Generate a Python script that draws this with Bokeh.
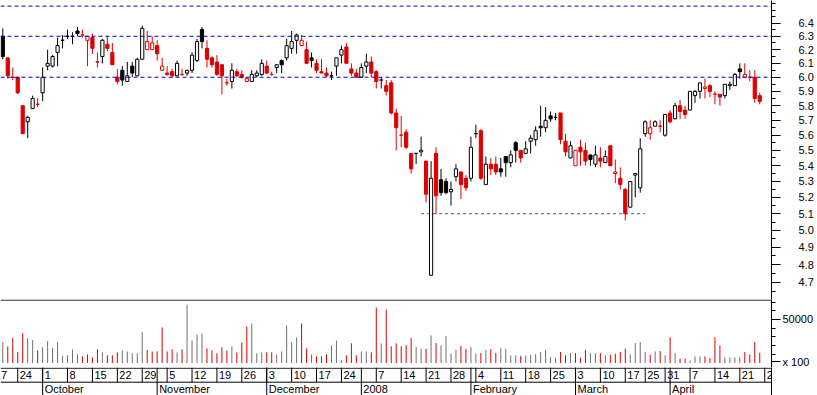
import numpy as np
import pandas as pd
from bokeh.plotting import figure
from bokeh.layouts import column
from bokeh.models import (ColumnDataSource, Range1d, FixedTicker, PrintfTickFormatter,
                          Span)
from bokeh.core.properties import value
from bokeh.embed import file_html
from bokeh.resources import INLINE

# ---------------------------------------------------------------- data
FIRST_DAY = "2007-09-19"
CAL_START, CAL_END = "2007-09-17", "2008-04-28"
HOLIDAYS = ["2007-12-25", "2007-12-26", "2008-01-01", "2008-03-21", "2008-03-24"]

opens = [6.30, 6.14, 6.00, 6.00, 5.80, 5.69, 5.78, 5.81, 5.89, 6.08,
         6.08, 6.18, 6.27, 6.30, 6.30, 6.34, 6.31, 6.27, 6.29, 6.11,
         6.15, 6.24, 6.18, 6.00, 6.05, 5.97, 6.08, 6.01, 6.13, 6.20,
         6.20, 6.23, 6.05, 6.03, 6.04, 6.01, 6.02, 6.03, 6.05, 6.12,
         6.35, 6.21, 6.14, 6.11, 6.09, 5.96, 5.97, 6.04, 6.02, 5.97,
         5.97, 6.01, 6.02, 6.08, 6.02, 6.07, 6.12, 6.14, 6.21, 6.27,
         6.23, 6.20, 6.14, 6.10, 6.04, 6.03, 6.01, 6.08, 6.16, 6.22,
         6.06, 6.03, 6.00, 6.08, 6.11, 6.04, 5.98, 5.94, 5.96, 5.75,
         5.60, 5.62, 5.48, 5.48, 5.49, 5.43, 4.74, 5.48, 5.31, 5.30,
         5.235, 5.33, 5.36, 5.32, 5.32, 5.61, 5.63, 5.28, 5.41, 5.41,
         5.38, 5.46, 5.42, 5.55, 5.50, 5.48, 5.56, 5.57, 5.66, 5.65,
         5.73, 5.72, 5.75, 5.56, 5.45, 5.40, 5.52, 5.50, 5.47, 5.41,
         5.45, 5.42, 5.53, 5.35, 5.32, 5.25, 5.14, 5.34, 5.26, 5.61,
         5.61, 5.66, 5.66, 5.60, 5.75, 5.71, 5.80, 5.77, 5.77, 5.87,
         5.90, 5.92, 5.94, 5.88, 5.88, 5.87, 5.94, 5.94, 6.06, 6.00,
         6.00, 6.00, 5.87]

highs = [6.36, 6.14, 6.07, 6.00, 5.80, 5.73, 5.87, 5.85, 6.07, 6.20,
         6.16, 6.29, 6.31, 6.35, 6.33, 6.37, 6.35, 6.30, 6.32, 6.18,
         6.28, 6.30, 6.25, 6.06, 6.08, 6.11, 6.11, 6.14, 6.38, 6.34,
         6.30, 6.27, 6.14, 6.08, 6.06, 6.12, 6.06, 6.05, 6.18, 6.28,
         6.37, 6.27, 6.15, 6.16, 6.09, 5.99, 6.10, 6.06, 6.05, 6.00,
         6.05, 6.05, 6.13, 6.12, 6.04, 6.09, 6.13, 6.28, 6.34, 6.32,
         6.31, 6.26, 6.18, 6.13, 6.13, 6.07, 6.04, 6.14, 6.23, 6.25,
         6.10, 6.06, 6.10, 6.17, 6.15, 6.05, 6.00, 5.98, 5.98, 5.78,
         5.73, 5.64, 5.48, 5.48, 5.59, 5.43, 5.43, 5.52, 5.38, 5.32,
         5.30, 5.41, 5.36, 5.34, 5.59, 5.67, 5.64, 5.46, 5.45, 5.46,
         5.45, 5.46, 5.50, 5.56, 5.50, 5.56, 5.60, 5.66, 5.80, 5.79,
         5.76, 5.75, 5.75, 5.61, 5.56, 5.50, 5.57, 5.55, 5.47, 5.53,
         5.52, 5.50, 5.53, 5.44, 5.39, 5.26, 5.30, 5.35, 5.58, 5.70,
         5.70, 5.70, 5.70, 5.74, 5.77, 5.82, 5.84, 5.80, 5.90, 5.91,
         5.96, 5.99, 5.95, 5.90, 5.88, 5.95, 5.97, 6.03, 6.10, 6.10,
         6.05, 6.05, 5.89]

lows = [6.13, 5.99, 5.98, 5.88, 5.61, 5.58, 5.78, 5.79, 5.83, 6.05,
        6.07, 6.08, 6.21, 6.28, 6.24, 6.30, 6.29, 6.08, 6.17, 6.07,
        6.10, 6.19, 6.09, 5.95, 5.94, 5.97, 6.00, 6.01, 6.13, 6.20,
        6.20, 6.12, 6.05, 6.01, 6.00, 6.01, 6.01, 6.01, 6.03, 6.11,
        6.21, 6.07, 6.07, 6.01, 5.88, 5.94, 5.92, 6.00, 5.99, 5.97,
        5.97, 6.00, 6.01, 6.02, 6.01, 6.03, 6.03, 6.12, 6.17, 6.17,
        6.23, 6.10, 6.07, 6.03, 6.03, 6.00, 5.98, 6.01, 6.10, 6.10,
        6.01, 6.00, 6.00, 6.03, 6.00, 5.92, 5.92, 5.87, 5.74, 5.50,
        5.52, 5.51, 5.35, 5.41, 5.46, 5.17, 4.74, 5.10, 5.21, 5.22,
        5.15, 5.30, 5.19, 5.24, 5.30, 5.58, 5.31, 5.28, 5.34, 5.34,
        5.33, 5.33, 5.39, 5.42, 5.42, 5.48, 5.48, 5.53, 5.59, 5.62,
        5.69, 5.70, 5.54, 5.46, 5.45, 5.40, 5.40, 5.40, 5.40, 5.39,
        5.39, 5.42, 5.40, 5.29, 5.25, 5.06, 5.14, 5.20, 5.23, 5.59,
        5.57, 5.66, 5.62, 5.59, 5.68, 5.71, 5.71, 5.71, 5.77, 5.82,
        5.85, 5.85, 5.86, 5.81, 5.80, 5.85, 5.91, 5.94, 5.99, 6.00,
        5.97, 5.82, 5.81]

closes = [6.15, 6.01, 6.00, 5.89, 5.61, 5.72, 5.85, 5.81, 6.00, 6.10,
          6.15, 6.23, 6.27, 6.30, 6.30, 6.32, 6.31, 6.30, 6.21, 6.11,
          6.27, 6.21, 6.09, 5.97, 5.98, 6.01, 6.03, 6.13, 6.36, 6.26,
          6.25, 6.17, 6.08, 6.02, 6.01, 6.10, 6.02, 6.05, 6.16, 6.26,
          6.26, 6.13, 6.09, 6.02, 6.01, 5.96, 6.05, 6.01, 6.00, 5.99,
          6.02, 6.03, 6.10, 6.03, 6.02, 6.09, 6.09, 6.23, 6.26, 6.31,
          6.27, 6.10, 6.12, 6.05, 6.03, 6.01, 6.01, 6.14, 6.20, 6.10,
          6.03, 6.00, 6.07, 6.11, 6.03, 5.97, 5.98, 5.90, 5.75, 5.65,
          5.60, 5.52, 5.38, 5.48, 5.50, 5.22, 5.32, 5.21, 5.23, 5.23,
          5.25, 5.38, 5.28, 5.26, 5.52, 5.61, 5.32, 5.41, 5.38, 5.36,
          5.36, 5.42, 5.47, 5.50, 5.45, 5.51, 5.58, 5.63, 5.65, 5.70,
          5.71, 5.72, 5.57, 5.49, 5.53, 5.50, 5.49, 5.43, 5.44, 5.47,
          5.43, 5.46, 5.40, 5.36, 5.28, 5.10, 5.30, 5.35, 5.51, 5.69,
          5.65, 5.69, 5.66, 5.74, 5.69, 5.80, 5.76, 5.74, 5.90, 5.90,
          5.96, 5.93, 5.90, 5.88, 5.86, 5.95, 5.95, 6.02, 6.04, 6.02,
          6.00, 5.85, 5.83]

volumes = [24000, 19100, 28600, 12600, 34300, 28600, 26300, 14500, 18300, 25200,
           17500, 24000, 8000, 8800, 15600, 9900, 7600, 9900, 6500, 15600,
           12200, 8800, 8800, 12200, 14500, 13300, 11100, 11100, 35500, 14900,
           13300, 13300, 40800, 13300, 15600, 12200, 15600, 67100, 25900, 32800,
           33900, 16800, 14500, 11100, 17900, 14500, 19100, 12200, 23600, 41900,
           45400, 11100, 12200, 12200, 12200, 9900, 13300, 43100, 24000, 29400,
           45400, 16800, 9900, 7600, 7600, 9900, 20200, 25900, 3100, 8800,
           22500, 8800, 13300, 13300, 12200, 63700, 22500, 61400, 19100, 22500,
           19100, 20200, 28600, 18300, 16400, 16400, 31600, 22900, 20200, 30900,
           10700, 15300, 19400, 16400, 18300, 10700, 11400, 15300, 16000, 11400,
           17200, 16400, 8800, 8800, 8000, 8800, 9500, 10300, 12600, 15300,
           6900, 6100, 12600, 8800, 11400, 11400, 6100, 15300, 11400, 11400,
           11400, 8800, 9500, 10700, 12600, 16400, 9900, 22900, 24000, 12600,
           9500, 13300, 13700, 8800, 29700, 11400, 5000, 5000, 3100, 7600,
           7600, 7600, 5700, 29700, 20200, 6500, 6500, 6500, 6500, 12600,
           9900, 24000, 11800]

resistance_levels = [6.53, 6.30, 6.00]
support_level = 5.10
support_from, support_to = "2008-01-18", "2008-03-25"

price_tick_labels = [4.7, 4.8, 4.9, 5.0, 5.1, 5.2, 5.3, 5.4, 5.5, 5.6,
                     5.7, 5.8, 5.9, 6.0, 6.1, 6.2, 6.3, 6.4]
volume_tick_labels = [50000]
volume_minor_ticks = [10000, 20000, 30000, 40000, 50000, 60000, 70000]
volume_unit = "x 100"
volume_unit_at = 1700
month_labels = {1: "2008", 2: "February", 3: "March", 4: "April",
                10: "October", 11: "November", 12: "December"}

# ---------------------------------------------------------------- styles
RED = "#dd0000"
BLACK = "#000000"
GREY = "#707070"
BLUE = "#0000cc"
FONT = "Liberation Sans"
W = 817
BORDER_R = 46
X_RANGE = Range1d(-0.46, 154.36)

# ---------------------------------------------------------------- calendar
cal = pd.bdate_range(CAL_START, CAL_END)
cal = cal[~cal.isin(pd.to_datetime(HOLIDAYS))]
origin = cal.get_loc(pd.Timestamp(FIRST_DAY))
cal_pos = list(np.arange(len(cal)) - origin)
n = len(opens)
assert len(highs) == len(lows) == len(closes) == len(volumes) == n
xs = cal_pos[origin:origin + n]


def pos_of(day):
    return cal_pos[cal.get_loc(pd.Timestamp(day))]


prev_close = [closes[0]] + closes[:-1]
down = [c < pc for c, pc in zip(closes, prev_close)]
colors = [RED if d else BLACK for d in down]
fills = ["white" if c > o else col for o, c, col in zip(opens, closes, colors)]
vcolors = [RED if d else GREY for d in down]

src = ColumnDataSource(dict(
    x=xs, open=opens, high=highs, low=lows, close=closes,
    top=[max(o, c) for o, c in zip(opens, closes)],
    bottom=[min(o, c) for o, c in zip(opens, closes)],
    color=colors, fill=fills, vol=volumes, vcolor=vcolors,
))


def base_fig(height, **kw):
    f = figure(width=W, height=height, x_range=X_RANGE, toolbar_location=None,
               output_backend="svg", x_axis_location=None,
               min_border_left=0, min_border_right=BORDER_R,
               min_border_top=0, min_border_bottom=0, **kw)
    f.outline_line_color = None
    f.grid.visible = False
    f.background_fill_color = "white"
    f.border_fill_color = "white"
    return f


def style_axis(ax):
    ax.axis_line_color = BLACK
    ax.major_tick_line_color = BLACK
    ax.minor_tick_line_color = BLACK
    ax.major_tick_in = 0
    ax.minor_tick_in = 0
    ax.major_label_text_font = FONT
    ax.major_label_text_font_size = "11px"
    ax.major_label_text_color = BLACK


# ---------------------------------------------------------------- price panel
pp = base_fig(299, y_axis_type="log", y_axis_location="right",
              y_range=Range1d(4.605, 6.574))
ay = pp.yaxis[0]
minor_price = [round(v, 2) for v in np.arange(4.60, 6.60, 0.05)]
ay.ticker = FixedTicker(ticks=price_tick_labels, minor_ticks=minor_price)
ay.formatter = PrintfTickFormatter(format="%.1f")
style_axis(ay)
ay.major_tick_out = 9
ay.minor_tick_out = 4
ay.major_label_standoff = 18

for lvl in resistance_levels:
    pp.add_layout(Span(location=lvl, dimension="width", line_color=BLUE,
                       line_dash="4 3", line_width=1))
pp.segment(x0=[pos_of(support_from)], y0=[support_level],
           x1=[pos_of(support_to)], y1=[support_level],
           line_color="#555555", line_dash="3 3", line_width=1)

pp.segment(x0="x", y0="low", x1="x", y1="high", line_color="color",
           line_width=1, source=src)
pp.vbar(x="x", width=0.64, top="top", bottom="bottom", fill_color="fill",
        line_color="color", line_width=1, source=src)

# ---------------------------------------------------------------- volume panel
pv = base_fig(68, y_axis_location="right", y_range=Range1d(-5172, 72987))
av = pv.yaxis[0]
av.ticker = FixedTicker(ticks=[volume_unit_at] + volume_tick_labels,
                        minor_ticks=volume_minor_ticks)
av.formatter = PrintfTickFormatter(format="%d")
av.major_label_overrides = {volume_unit_at: volume_unit}
style_axis(av)
av.major_tick_out = 9
av.minor_tick_out = 4
av.major_label_standoff = 2

pv.add_layout(Span(location=72300, dimension="width", line_color=BLACK, line_width=1))
pv.segment(x0="x", y0=0, x1="x", y1="vol", line_color="vcolor", line_width=1,
           source=src)

# ---------------------------------------------------------------- date rows
pdt = base_fig(28, y_axis_location="right", y_range=Range1d(0.05, 2.05))
ad = pdt.yaxis[0]
ad.ticker = FixedTicker(ticks=[])
ad.major_label_text_font_size = "0px"
ad.axis_line_color = BLACK
pdt.add_layout(Span(location=2.0, dimension="width", line_color=BLACK, line_width=1))
pdt.add_layout(Span(location=1.0, dimension="width", line_color=BLACK, line_width=1))

week_x, week_txt, month_x, month_txt = [], [], [], []
for k, d in enumerate(cal):
    if k > 0 and d.month != cal[k - 1].month:
        month_x.append(cal_pos[k])
        month_txt.append(month_labels[d.month])
for k, d in enumerate(cal):
    if k == 0 or d.isocalendar()[1] != cal[k - 1].isocalendar()[1]:
        wk = [e for e in cal if e.isocalendar()[1] == d.isocalendar()[1]]
        if any(e.year != d.year for e in wk):
            continue
        week_x.append(cal_pos[k])
        week_txt.append(str(d.day))

pdt.segment(x0=week_x, y0=1.0, x1=week_x, y1=2.05, line_color=BLACK, line_width=1)
pdt.segment(x0=month_x, y0=0.05, x1=month_x, y1=2.05, line_color=BLACK, line_width=1)
pdt.text(x=week_x, y=1.5, text=week_txt, x_offset=2, text_align="left",
         text_baseline="middle", text_font=value(FONT), text_font_size="11px",
         text_color=BLACK)
pdt.text(x=month_x, y=0.48, text=month_txt, x_offset=2, text_align="left",
         text_baseline="middle", text_font=value(FONT), text_font_size="11px",
         text_color=BLACK)

layout = column(pp, pv, pdt, spacing=0)
open("out.html", "w").write(file_html(layout, INLINE))
